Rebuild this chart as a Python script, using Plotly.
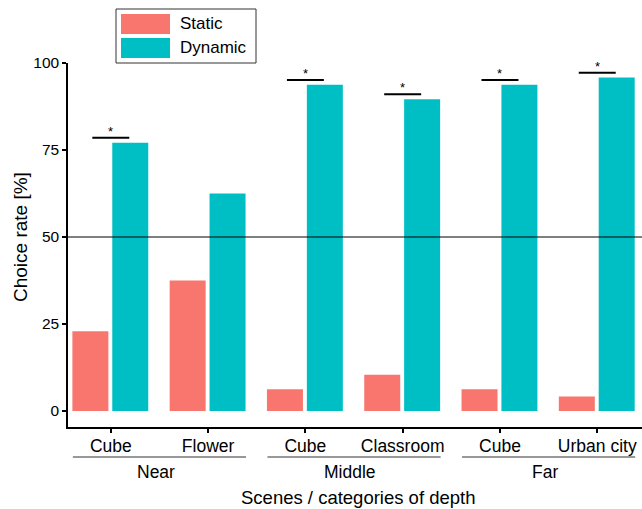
import plotly.graph_objects as go

# Choice rates per scene (percent of participants)
scenes = ["Cube", "Flower", "Cube", "Classroom", "Cube", "Urban city"]
depth_groups = ["Near", "Near", "Middle", "Middle", "Far", "Far"]
static_rate = [22.9, 37.5, 6.25, 10.4, 6.25, 4.17]
dynamic_rate = [77.1, 62.5, 93.75, 89.6, 93.75, 95.83]
significant = [True, False, True, True, True, True]
y_ticks = [0, 25, 50, 75, 100]

STATIC_COLOR = "#F8766D"
DYNAMIC_COLOR = "#00BFC4"
FONT = "Liberation Sans, Arial, sans-serif"

W, H = 642, 509
M_L, M_R, M_T, M_B = 68, 0, 63, 82
plot_w = W - M_L - M_R
plot_h = H - M_T - M_B

def px_x(p):
    return (p - M_L) / plot_w

def px_y(p):
    return (H - M_B - p) / plot_h

idx = list(range(len(scenes)))
bar_w = 0.37

fig = go.Figure()
fig.add_trace(go.Bar(x=idx, y=static_rate, width=bar_w, offset=-0.395,
                     marker=dict(color=STATIC_COLOR, line=dict(width=0)),
                     name="Static", showlegend=False))
fig.add_trace(go.Bar(x=idx, y=dynamic_rate, width=bar_w, offset=0.015,
                     marker=dict(color=DYNAMIC_COLOR, line=dict(width=0)),
                     name="Dynamic", showlegend=False))

shapes = []
annotations = []

# chance level
shapes.append(dict(type="line", xref="paper", yref="y", x0=0, x1=1, y0=50, y1=50,
                   line=dict(color="black", width=1)))

# significance brackets above the taller bar
for i, sig in enumerate(significant):
    if not sig:
        continue
    top = max(static_rate[i], dynamic_rate[i]) + 1.4
    shapes.append(dict(type="line", xref="x", yref="y", x0=i - 0.19, x1=i + 0.19,
                       y0=top, y1=top, line=dict(color="black", width=2)))
    annotations.append(dict(x=i, y=top, xref="x", yref="y", text="*", showarrow=False,
                            yanchor="bottom", yshift=-3,
                            font=dict(family=FONT, size=13, color="black")))

# depth-group lines and labels under the scene labels
groups = []
for i, g in enumerate(depth_groups):
    if not groups or groups[-1][0] != g:
        groups.append([g, i, i])
    else:
        groups[-1][2] = i
for g, a, b in groups:
    shapes.append(dict(type="line", xref="x", yref="paper", x0=a - 0.39, x1=b + 0.39,
                       y0=px_y(457), y1=px_y(457), line=dict(color="#333333", width=1)))
    annotations.append(dict(x=(a + b) / 2 - 0.04, y=px_y(472), xref="x", yref="paper",
                            text=g, showarrow=False, yanchor="middle",
                            font=dict(family=FONT, size=17.5, color="black")))

# axis titles
annotations.append(dict(x=px_x(358), y=px_y(497), xref="paper", yref="paper",
                        text="Scenes / categories of depth",
                        showarrow=False, yanchor="middle",
                        font=dict(family=FONT, size=18.5, color="black")))
annotations.append(dict(x=px_x(20), y=px_y(237), xref="paper", yref="paper",
                        text="Choice rate [%]", textangle=-90, showarrow=False,
                        xanchor="center", yanchor="middle",
                        font=dict(family=FONT, size=19, color="black")))

# legend box
shapes.append(dict(type="rect", xref="paper", yref="paper",
                   x0=px_x(116), x1=px_x(256), y0=px_y(63), y1=px_y(9),
                   line=dict(color="#333333", width=1), fillcolor="white"))
for name, color, y0, y1 in [("Static", STATIC_COLOR, 14, 34), ("Dynamic", DYNAMIC_COLOR, 38, 58)]:
    shapes.append(dict(type="rect", xref="paper", yref="paper",
                       x0=px_x(121), x1=px_x(170), y0=px_y(y1), y1=px_y(y0),
                       line=dict(width=0), fillcolor=color))
    annotations.append(dict(x=px_x(178), y=px_y((y0 + y1) / 2), xref="paper", yref="paper",
                            text=name, showarrow=False, xanchor="left", yanchor="middle",
                            font=dict(family=FONT, size=17, color="black")))

fig.update_layout(
    width=W, height=H,
    margin=dict(l=M_L, r=M_R, t=M_T, b=M_B),
    plot_bgcolor="white", paper_bgcolor="white",
    font=dict(family=FONT, color="black"),
    shapes=shapes, annotations=annotations,
    showlegend=False,
    xaxis=dict(range=[-0.44, 5.46], tickmode="array", tickvals=idx, ticktext=scenes,
               ticks="outside", ticklen=4, tickwidth=1.5, tickcolor="black",
               ticklabelstandoff=-2,
               showline=True, linecolor="black", linewidth=1.5,
               showgrid=False, zeroline=False, fixedrange=True,
               tickfont=dict(family=FONT, size=17.5, color="black")),
    yaxis=dict(range=[-4.6, 100], tickmode="array", tickvals=y_ticks,
               ticks="outside", ticklen=4, tickwidth=1.5, tickcolor="black",
               showline=True, linecolor="black", linewidth=1.5,
               showgrid=False, zeroline=False, fixedrange=True,
               tickfont=dict(family=FONT, size=15.5, color="black")),
)

fig.write_html("out.html")
